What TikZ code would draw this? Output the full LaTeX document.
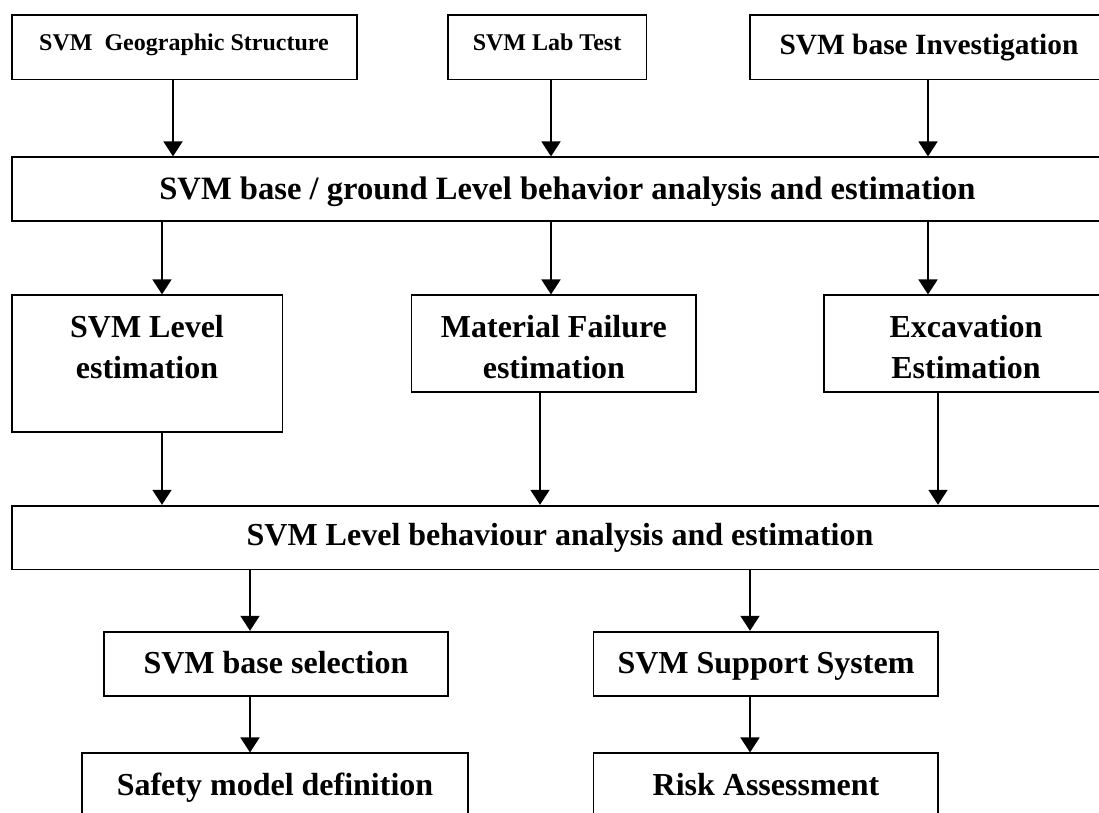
\documentclass[tikz,border=0pt]{standalone}
\usepackage{fontspec}
\setmainfont{Liberation Serif}
\usetikzlibrary{arrows.meta}
\tikzset{
  box/.style={draw, line width=1.8pt, inner sep=0pt, anchor=center},
  txt/.style={inner sep=0pt, anchor=base, font=\bfseries\fontsize{32}{44}\selectfont},
  bigtxt/.style={txt, font=\bfseries\fontsize{32.6}{40}\selectfont},
  smalltxt/.style={txt, font=\bfseries\fontsize{24}{28}\selectfont},
  midtxt/.style={txt, font=\bfseries\fontsize{29.4}{34}\selectfont},
  arr/.style={line width=1.8pt, -{Triangle[length=15pt,width=19pt]}}
}
\begin{document}
\begin{tikzpicture}[x=1pt,y=-1pt]
\useasboundingbox (0,0) rectangle (1099,812);
\clip (0,0) rectangle (1099,812);
% column coordinates for connectors
\coordinate (cA) at (173,0);
\coordinate (cB) at (551,0);
\coordinate (cC) at (928,0);
\coordinate (cD) at (162,0);
\coordinate (cE) at (540,0);
\coordinate (cF) at (938,0);
\coordinate (cG) at (250,0);
\coordinate (cH) at (750,0);
% boxes
\node[box, minimum width=345.1pt, minimum height=64.5pt] (gs) at (184.2,47.3) {};
\node[box, minimum width=198.5pt, minimum height=64.5pt] (lab) at (547.25,47.3) {};
\node[box, minimum width=358.8pt, minimum height=64.5pt] (inv) at (929,47.3) {};
\node[box, minimum width=1111.8pt, minimum height=64pt] (b1) at (567.5,189.3) {};
\node[box, minimum width=270.8pt, minimum height=136.5pt] (lvl) at (147,363.5) {};
\node[box, minimum width=284.9pt, minimum height=96.5pt] (mat) at (553.85,343.6) {};
\node[box, minimum width=284.8pt, minimum height=96.5pt] (exc) at (966,343.6) {};
\node[box, minimum width=1096.8pt, minimum height=63.8pt] (b2) at (560,537.6) {};
\node[box, minimum width=344.5pt, minimum height=64.3pt] (sel) at (276,663.85) {};
\node[box, minimum width=344.8pt, minimum height=64.3pt] (sup) at (765.9,663.85) {};
\node[box, minimum width=386.3pt, minimum height=64.3pt] (saf) at (275.15,785.5) {};
\node[box, minimum width=344.8pt, minimum height=64.3pt] (risk) at (765.9,785.5) {};
% texts
\node[smalltxt] (tgs) at (184,50) {SVM\ \ Geographic Structure};
\node[smalltxt] (tlab) at (547,50) {SVM Lab Test};
\node[midtxt] (tinv) at (929,54) {SVM base Investigation};
\node[bigtxt] (tb1) at (567.5,199) {SVM base / ground Level behavior analysis and estimation};
\node[txt] (tlvl1) at (147,337) {SVM Level};
\node[txt] (tlvl2) at (147,378.5) {estimation};
\node[txt] (tmat1) at (553.9,337) {Material Failure};
\node[txt] (tmat2) at (553.9,378.5) {estimation};
\node[txt] (texc1) at (966,337) {Excavation};
\node[txt] (texc2) at (966,378.5) {Estimation};
\node[txt] (tb2) at (560,545.5) {SVM Level behaviour analysis and estimation};
\node[txt] (tsel) at (276,673.3) {SVM base selection};
\node[txt] (tsup) at (766,673.3) {SVM Support System};
\node[txt] (tsaf) at (275,795) {Safety model definition};
\node[txt] (trisk) at (766,795) {Risk Assessment};
% connectors
\draw[arr] (gs.south -| cA) -- (b1.north -| cA);
\draw[arr] (lab.south -| cB) -- (b1.north -| cB);
\draw[arr] (inv.south -| cC) -- (b1.north -| cC);
\draw[arr] (b1.south -| cD) -- (lvl.north -| cD);
\draw[arr] (b1.south -| cB) -- (mat.north -| cB);
\draw[arr] (b1.south -| cC) -- (exc.north -| cC);
\draw[arr] (lvl.south -| cD) -- (b2.north -| cD);
\draw[arr] (mat.south -| cE) -- (b2.north -| cE);
\draw[arr] (exc.south -| cF) -- (b2.north -| cF);
\draw[arr] (b2.south -| cG) -- (sel.north -| cG);
\draw[arr] (b2.south -| cH) -- (sup.north -| cH);
\draw[arr] (sel.south -| cG) -- (saf.north -| cG);
\draw[arr] (sup.south -| cH) -- (risk.north -| cH);
\end{tikzpicture}
\end{document}
